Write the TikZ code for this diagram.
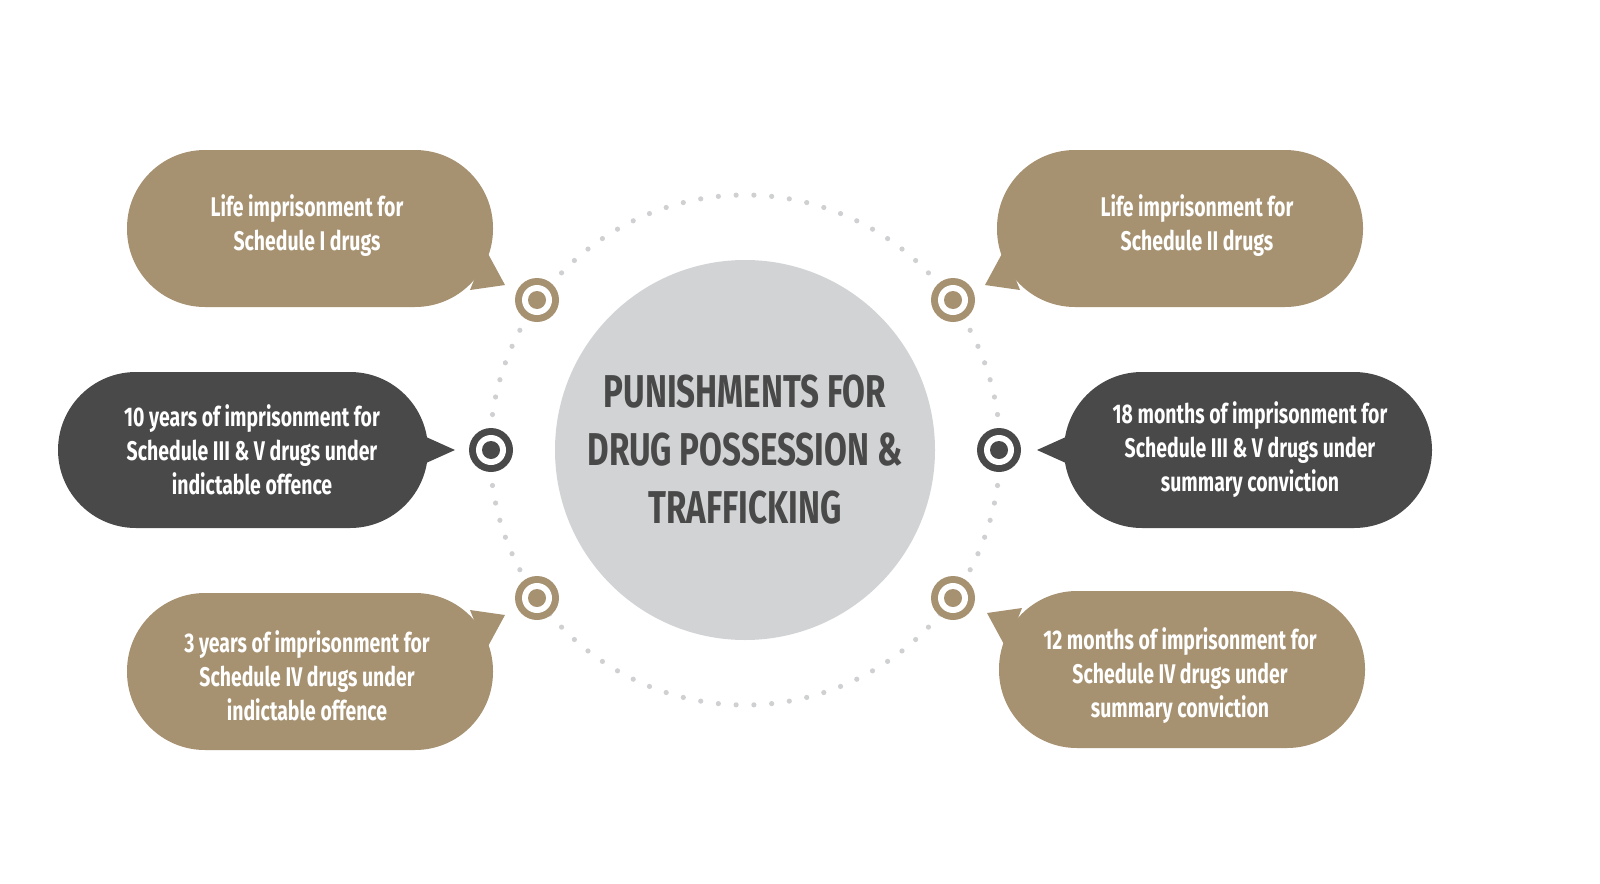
\documentclass[tikz,border=0pt]{standalone}
\usepackage{fontspec}
\setmainfont[FakeStretch=0.72]{Fira Sans}
\definecolor{tan}{HTML}{A69170}
\definecolor{dark}{HTML}{4A4949}
\definecolor{lgray}{HTML}{D1D3D5}
\definecolor{dotc}{HTML}{CFD0D2}
\begin{document}
\begin{tikzpicture}[x=1pt,y=-1pt,
  bub/.style={rounded corners=78pt},
  btxt/.style={text=white,font=\bfseries\fontsize{27}{34}\selectfont,align=center},
  tgt/.style={circle,minimum size=44pt,inner sep=0pt},
]
\useasboundingbox (0,0) rectangle (1600,883);
% dotted circle
\foreach \a in {0,4,...,356} \fill[dotc] (745,450) ++(\a:255) circle (2.6);
\fill[lgray] (745,450) circle (190);
\node[text=dark,font=\bfseries\fontsize{46}{58}\selectfont,align=center] (title) at (745,450) {PUNISHMENTS FOR\\DRUG POSSESSION \&\\TRAFFICKING};
% bubbles
\fill[tan,bub] (127,150) rectangle (493,307);
\fill[tan] (470,290) -- (505,285) -- (486,250) -- cycle;
\node[btxt] (b1) at (307,226) {Life imprisonment for\\Schedule I drugs};
\fill[dark,bub] (58,372) rectangle (428,528);
\fill[dark] (415,432) -- (455,450) -- (415,468) -- cycle;
\node[btxt] (b2) at (252,450) {10 years of imprisonment for\\Schedule III \& V drugs under\\indictable offence};
\fill[tan,bub] (127,593) rectangle (493,750);
\fill[tan] (470,610) -- (505,615) -- (486,650) -- cycle;
\node[btxt] (b3) at (307,676) {3 years of imprisonment for\\Schedule IV drugs under\\indictable offence};
\fill[tan,bub] (997,150) rectangle (1363,307);
\fill[tan] (1020,290) -- (985,285) -- (1004,250) -- cycle;
\node[btxt] (b4) at (1197,226) {Life imprisonment for\\Schedule II drugs};
\fill[dark,bub] (1064,372) rectangle (1432,528);
\fill[dark] (1077,432) -- (1037,450) -- (1077,468) -- cycle;
\node[btxt] (b5) at (1250,450) {18 months of imprisonment for\\Schedule III \& V drugs under\\summary conviction};
\fill[tan,bub] (999,591) rectangle (1365,748);
\fill[tan] (1022,608) -- (987,613) -- (1006,648) -- cycle;
\node[btxt] (b6) at (1180,676) {12 months of imprisonment for\\Schedule IV drugs under\\summary conviction};
% targets
\foreach \p/\c in {{537,300}/tan,{953,300}/tan,{491,450}/dark,{999,450}/dark,{537,598}/tan,{953,598}/tan}{
  \fill[\c] (\p) circle (22);
  \fill[white] (\p) circle (15);
  \fill[\c] (\p) circle (9);
}
\end{tikzpicture}
\end{document}
